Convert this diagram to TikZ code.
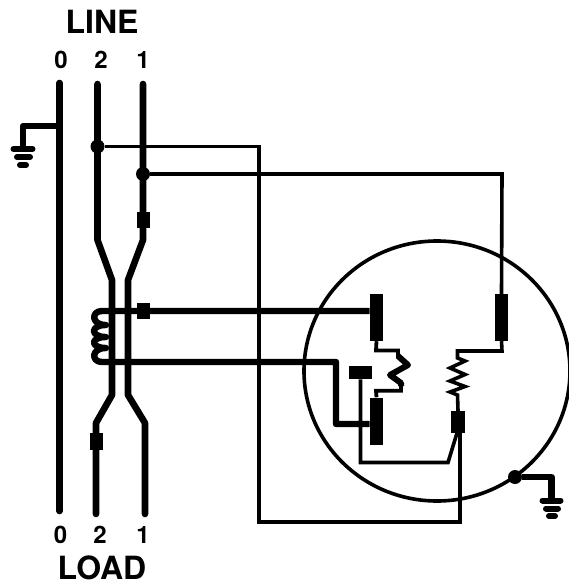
\documentclass[tikz,border=0pt]{standalone}
\usepackage{fontspec}
\setmainfont{TeX Gyre Heros}
\usetikzlibrary{positioning,calc,shapes.geometric}

\begin{document}
\begin{tikzpicture}[x=1pt,y=-1pt]
	\tikzset{
		bus/.style={draw=black, line width=6.6pt, line cap=round, line join=round},
		feed/.style={draw=black, line width=6.4pt, line join=round},
		wire/.style={draw=black, line width=3.6pt, line join=miter},
		gnd/.style={draw=black, line width=6pt, line cap=round},
		dot/.style={circle, fill=black, minimum size=14pt, inner sep=0pt},
		pad/.style={rectangle, fill=black, inner sep=0pt, minimum width=13.5pt, minimum height=16.5pt},
		blade/.style={rectangle, fill=black, inner sep=0pt, minimum width=13.5pt, minimum height=47pt},
		title/.style={font=\fontsize{32}{32}\selectfont\bfseries, inner sep=0pt},
		num/.style={font=\fontsize{24}{24}\selectfont\bfseries, inner sep=0pt}
	}
	\useasboundingbox (0,0) rectangle (568,586);
	
	\node[title] (line) at (102,22) {LINE};
	\node[num] (t0) at (61,60) {0};
	\node[num] (t2) at (101,60) {2};
	\node[num] (t1) at (143,60) {1};
	\node[num] (b0) at (60.5,535) {0};
	\node[num] (b2) at (100,535) {2};
	\node[num] (b1) at (143,535) {1};
	\node[title] (load) at (102,568) {LOAD};
	
	% line side and load side
	\coordinate (l0a) at (59.5,83);
	\coordinate (l0b) at (59.5,511);
	\coordinate (l2a) at (97.5,84);
	\coordinate (l2b) at (96,514);
	\coordinate (l1a) at (143,84);
	\coordinate (l1b) at (145,514);
	\draw[bus] (l0a)--(l0b);
	\draw[bus] (l2a)--(97.5,240)--(112,280)--(112,395)--(96,423)--(l2b);
	\draw[bus] (l1a)--(143,240)--(128,280)--(128,395)--(145,423)--(l1b);
	
	\node[dot] (j2) at (97.5,146.5) {};
	\node[dot] (j1) at (143,174) {};
	\node[pad] (p1) at (143.5,220) {};
	\node[pad] (p2) at (96.5,441.5) {};
	\node[pad] (p3) at (143.5,311) {};
	
	% meter
	\node[ellipse, draw=black, line width=3.6pt, minimum width=266pt, minimum height=260pt, inner sep=0pt] (meter) at (437,371) {};
	\node[blade] (bA) at (376.5,317.5) {};
	\node[blade] (bB) at (501.5,317.5) {};
	\node[blade] (bC) at (376.5,421) {};
	\node[rectangle, fill=black, inner sep=0pt, minimum width=23pt, minimum height=13.5pt] (tab) at (360.5,372.5) {};
	\node[rectangle, fill=black, inner sep=0pt, minimum width=14pt, minimum height=22pt] (term) at (458,422) {};
	\node[dot] (j3) at (515,477) {};
	
	% current coil
	\coordinate (cTop) at (112,311);
	\coordinate (cBot) at (112,362);
	\draw[feed] (bA.west |- cTop)--(cTop)--(102,311)
		.. controls (91,311) and (91,325) .. (106,325)
		.. controls (90,325) and (90,337) .. (106,337)
		.. controls (90,337) and (90,348) .. (106,348)
		.. controls (91,348) and (91,362) .. (102,362)--(cBot)--(336,362)--(336,424)--(bC.west |- 0,424);
	
	% potential coils
	\draw[wire, line width=3.8pt] (bA.south)--(376,350.5)--(398,350.5)--(398,358);
	\draw[feed, line width=6pt] (398,356)--(408,365)--(390,375)--(401,383)--(401,386);
	\draw[wire, line width=3.8pt] (401,384)--(401,390.7)--(376,390.7)--(bC.north);
	\draw[wire] (bB.south)--(502,351)--(457.5,351)--(457.5,358)--(465,361)--(450,368)--(465,374.5)--(450,381)--(465,386.5)--(450,392)--(457.5,395)--(term.north);
	
	% supply wires
	\draw[wire] (j2)--(259,146.5)--(259,522)--(460,522)--(460,433);
	\draw[wire] (j1)--(502,174)--(bB.north);
	\draw[wire] (tab.south)--(360.5,462.5)--(448,462.5)--(457,433);
	
	% grounds
	\coordinate (g0) at (23,148);
	\coordinate (g1) at (551.5,499);
	\draw[feed] (59.5,126)--(23,126)--(g0);
	\draw[feed] (j3)--(551.5,477)--(g1);
	\draw[gnd] (13.5,149)--(32.5,149);
	\draw[gnd] (17,157)--(30,157);
	\draw[gnd] (20,165)--(26,165);
	\draw[gnd] (542.5,500.5)--(560.5,500.5);
	\draw[gnd] (546,508.5)--(558,508.5);
	\draw[gnd] (549,516)--(555,516);
\end{tikzpicture}
\end{document}
